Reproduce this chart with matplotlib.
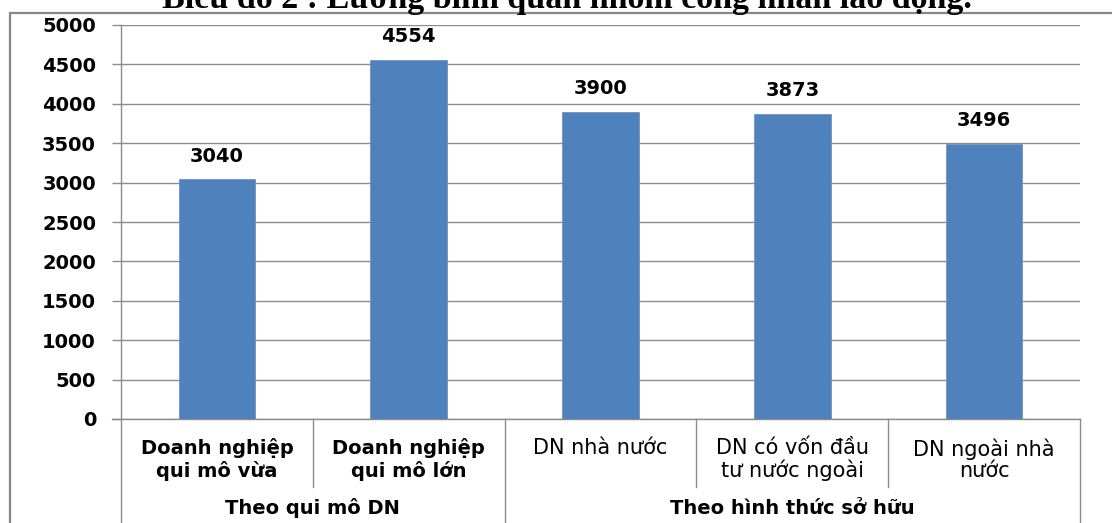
import matplotlib
matplotlib.use("Agg")
import matplotlib.pyplot as plt
from matplotlib.patches import Rectangle
from matplotlib.lines import Line2D
from matplotlib.transforms import blended_transform_factory

# Data
categories = [
    "Doanh nghiệp\nqui mô vừa",
    "Doanh nghiệp\nqui mô lớn",
    "DN nhà nước",
    "DN có vốn đầu\ntư nước ngoài",
    "DN ngoài nhà\nnước",
]
category_bold = [True, True, False, False, False]
values = [3040, 4554, 3900, 3873, 3496]
groups = ["Theo qui mô DN", "Theo hình thức sở hữu"]
group_spans = [(0, 1), (2, 4)]
yticks = [0, 500, 1000, 1500, 2000, 2500, 3000, 3500, 4000, 4500, 5000]
title = "Biểu đồ 2 : Lương bình quân nhóm công nhân lao động."

W, H = 1112, 523
DPI = 100
fig = plt.figure(figsize=(W / DPI, H / DPI), dpi=DPI)

GRAY = "#8c8c8c"
BAR = "#4f81bd"

# Outer chart frame (runs off the right and bottom edges)
fig.add_artist(Rectangle((10 / W, -0.2), 1.3, 1.2 - 13 / H,
                         transform=fig.transFigure, fill=False,
                         edgecolor="#878787", linewidth=1.6))

# Title, partly above the top edge
fig.text(567 / W, 1 - 8 / H, title, ha="center", va="baseline",
         fontsize=24.5, fontweight="bold", family="Liberation Serif")

ax = fig.add_axes([121 / W, 1 - 419 / H, (1080 - 121) / W, (419 - 25) / H])
x = list(range(len(categories)))
bars = ax.bar(x, values, width=0.4, color=BAR, edgecolor="#6d95c8",
              linewidth=0.6, zorder=3)

ax.set_xlim(-0.5, len(categories) - 0.5)
ax.set_ylim(0, 5000)
ax.set_yticks(yticks)
ax.set_yticklabels([str(t) for t in yticks])
ax.yaxis.grid(True, color=GRAY, linewidth=1.0, zorder=0)
ax.set_xticks([])
for side in ("top", "right", "bottom"):
    ax.spines[side].set_visible(False)
ax.spines["left"].set_color(GRAY)
ax.spines["left"].set_linewidth(1.0)
ax.tick_params(axis="y", length=6.5, width=1.0, color=GRAY, pad=11.5,
               labelsize=14)
for lab in ax.get_yticklabels():
    lab.set_fontweight("bold")
    lab.set_family("DejaVu Sans")

# Value labels above bars
for xi, v in zip(x, values):
    ax.annotate(str(v), (xi, v), xytext=(0, 12.8), textcoords="offset points",
                ha="center", va="baseline", fontsize=14, fontweight="bold",
                family="DejaVu Sans")

# Category table under the plot
tr = blended_transform_factory(ax.transData, ax.transAxes)
px = 1.0 / (419 - 25)
short_bottom = -(487 - 419) * px
long_bottom = -0.5
n = len(categories)
ax.add_line(Line2D([-0.5 - 9 / 959 * n, n - 0.5], [0, 0], transform=tr,
                   color=GRAY, linewidth=1.0, clip_on=False))
group_edges = {-0.5} | {g[1] + 0.5 for g in group_spans}
for i in range(n + 1):
    xe = i - 0.5
    yb = long_bottom if xe in group_edges else short_bottom
    ax.add_line(Line2D([xe, xe], [0, yb], transform=tr, color=GRAY,
                       linewidth=1.0, clip_on=False))

label_top = -(438 - 419) * px
for xi, lab, bold in zip(x, categories, category_bold):
    if bold:
        ax.text(xi, label_top, lab, transform=tr, ha="center", va="top",
                fontsize=14, fontweight="bold", family="DejaVu Sans",
                linespacing=1.2)
    else:
        ax.text(xi, label_top, lab, transform=tr, ha="center", va="top",
                fontsize=15, family="DejaVu Sans", linespacing=1.1)

group_y = -(508 - 419) * px
for name, (a, b) in zip(groups, group_spans):
    ax.text((a + b) / 2, group_y, name, transform=tr, ha="center",
            va="center", fontsize=14, fontweight="bold",
            family="DejaVu Sans")

fig.savefig("out.png", dpi=DPI)
